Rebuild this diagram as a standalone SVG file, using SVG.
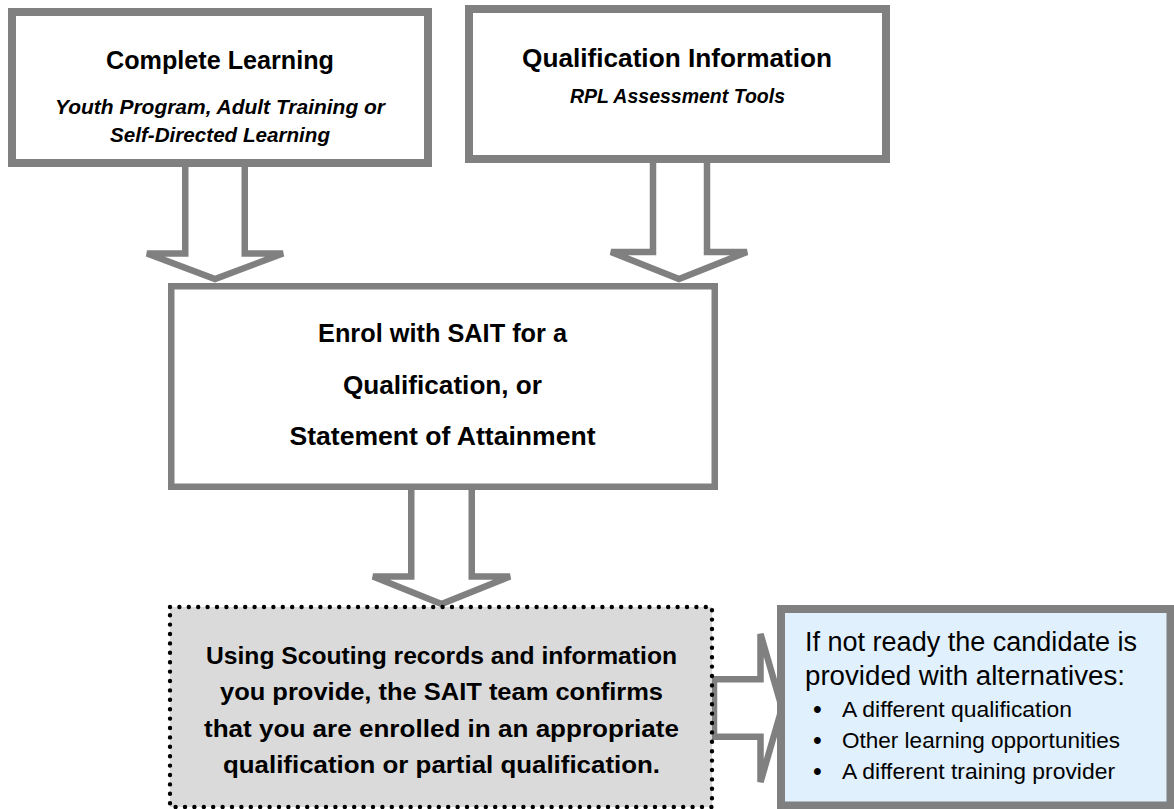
<svg xmlns="http://www.w3.org/2000/svg" width="1174" height="809" viewBox="0 0 1174 809">
  <style>
    .box { fill: #ffffff; stroke: #808080; }
    .arrow { fill: #ffffff; stroke: #808080; stroke-width: 6.5; stroke-linejoin: miter; }
    .t { font-family: "Liberation Sans", Arial, sans-serif; fill: #000000; }
    .b { font-weight: bold; }
    .bi { font-weight: bold; font-style: italic; }
    .c { text-anchor: middle; }
    .dots { fill: none; stroke: #000000; stroke-width: 4.4; stroke-linecap: round; stroke-dasharray: 0 9.4; }
  </style>

  <rect width="1174" height="809" fill="#ffffff"/>

  <!-- block arrows (drawn first so the boxes sit over their ends) -->
  <g id="connectors">
    <path class="arrow" d="M185.25,160 V253.5 H147 L215,279 L283,253.5 H244.75 V160 Z"/>
    <path class="arrow" d="M653,155 V252 H611 L679,279 L747,252 H707 V155 Z"/>
    <path class="arrow" d="M411.25,485 V576.5 H373 L441.5,604 L510,576.5 H471.75 V485 Z"/>
    <path class="arrow" d="M714,679.25 H760.5 V634 L782,708 L760.5,782 V736.75 H714 Z"/>
  </g>

  <g id="complete-learning">
    <rect class="box" x="12" y="12" width="416" height="151" stroke-width="8"/>
    <text class="t b c" x="220" y="69" font-size="25" textLength="228" lengthAdjust="spacingAndGlyphs">Complete Learning</text>
    <text class="t bi c" x="220" y="114" font-size="20.8" textLength="330" lengthAdjust="spacingAndGlyphs">Youth Program, Adult Training or</text>
    <text class="t bi c" x="220" y="142" font-size="20.8" textLength="220" lengthAdjust="spacingAndGlyphs">Self-Directed Learning</text>
  </g>

  <g id="qualification-information">
    <rect class="box" x="469" y="9" width="417" height="150" stroke-width="8"/>
    <text class="t b c" x="677" y="67" font-size="25" textLength="310" lengthAdjust="spacingAndGlyphs">Qualification Information</text>
    <text class="t bi c" x="677.5" y="103" font-size="20.8" textLength="215" lengthAdjust="spacingAndGlyphs">RPL Assessment Tools</text>
  </g>

  <g id="enrol">
    <rect class="box" x="171.25" y="286.25" width="543.5" height="200.5" stroke-width="6.5"/>
    <text class="t b c" x="442.5" y="342" font-size="26" textLength="249" lengthAdjust="spacingAndGlyphs">Enrol with SAIT for a</text>
    <text class="t b c" x="442.5" y="393.5" font-size="26" textLength="199" lengthAdjust="spacingAndGlyphs">Qualification, or</text>
    <text class="t b c" x="442.5" y="445" font-size="26" textLength="306" lengthAdjust="spacingAndGlyphs">Statement of Attainment</text>
  </g>

  <g id="confirm-enrolment">
    <rect x="170" y="607" width="542" height="200" fill="#dadada"/>
    <rect class="dots" x="170" y="607" width="542" height="200"/>
    <text class="t b c" x="441.5" y="664" font-size="24.5" textLength="471" lengthAdjust="spacingAndGlyphs">Using Scouting records and information</text>
    <text class="t b c" x="441.5" y="700" font-size="24.5" textLength="443" lengthAdjust="spacingAndGlyphs">you provide, the SAIT team confirms</text>
    <text class="t b c" x="441.5" y="737" font-size="24.5" textLength="475" lengthAdjust="spacingAndGlyphs">that you are enrolled in an appropriate</text>
    <text class="t b c" x="441.5" y="773" font-size="24.5" textLength="437" lengthAdjust="spacingAndGlyphs">qualification or partial qualification.</text>
  </g>

  <g id="alternatives">
    <rect x="781" y="609" width="389.5" height="196.5" fill="#e0f0fc" stroke="#808080" stroke-width="8"/>
    <text class="t" x="805" y="651" font-size="27" textLength="332" lengthAdjust="spacingAndGlyphs">If not ready the candidate is</text>
    <text class="t" x="805" y="685" font-size="27" textLength="320" lengthAdjust="spacingAndGlyphs">provided with alternatives:</text>
    <text class="t" x="813" y="718" font-size="25">•</text>
    <text class="t" x="842" y="717" font-size="22.5" textLength="230" lengthAdjust="spacingAndGlyphs">A different qualification</text>
    <text class="t" x="813" y="749" font-size="25">•</text>
    <text class="t" x="842" y="748" font-size="22.5" textLength="278" lengthAdjust="spacingAndGlyphs">Other learning opportunities</text>
    <text class="t" x="813" y="780" font-size="25">•</text>
    <text class="t" x="842" y="779" font-size="22.5" textLength="273" lengthAdjust="spacingAndGlyphs">A different training provider</text>
  </g>
</svg>
